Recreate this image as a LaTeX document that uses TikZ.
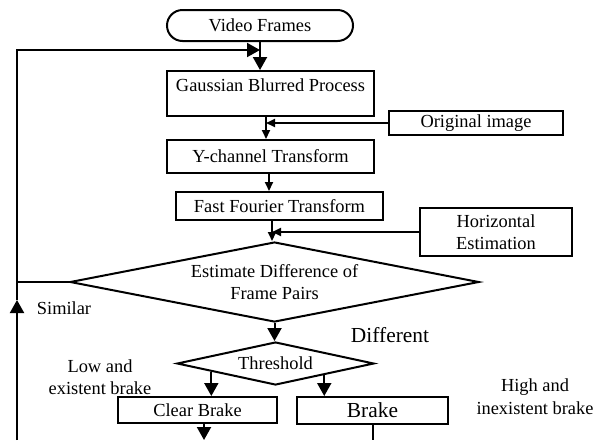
\documentclass[tikz,border=0pt]{standalone}
\usepackage{fontspec}
\setmainfont{Liberation Serif}
\usetikzlibrary{shapes.geometric,arrows.meta,calc}
\begin{document}
\begin{tikzpicture}[x=0.5pt,y=-0.5pt,
  every node/.style={font=\fontsize{9.2}{11.3}\selectfont, inner sep=0pt},
  bigfont/.style={font=\fontsize{10.7}{12.8}\selectfont},
  conn/.style={line width=1pt},
  bigarrow/.style={line width=1pt, -{Triangle[length=6.5pt,width=7pt]}},
  smallarrow/.style={line width=1pt, -{Triangle[length=4.5pt,width=4pt]}},
  procbox/.style={draw, line width=1pt, rectangle},
  terminal/.style={draw, line width=1pt, rectangle, rounded corners=7.75pt},
  decision/.style={draw, line width=1pt, diamond}
]
\useasboundingbox (0,0) rectangle (603,440);

% process chain
\node[terminal, minimum width=93pt, minimum height=15.5pt] (vf) at (260,25.5) {Video Frames};
\node[procbox, minimum width=103.5pt, minimum height=22.5pt, align=center] (gb) at (270.5,93.5) {Gaussian Blurred Process\\[-2.5pt]\mbox{}};
\node[procbox, minimum width=87pt, minimum height=12pt] (oi) at (476,123) {Original image};
\node[procbox, minimum width=103.5pt, minimum height=16.5pt] (yc) at (270.5,156.5) {Y-channel Transform};
\node[procbox, minimum width=103.5pt, minimum height=14pt] (fft) at (279.5,206) {Fast Fourier Transform};
\node[procbox, minimum width=76pt, minimum height=24pt, align=center] (he) at (496,232) {Horizontal\\Estimation};
\node[decision, minimum width=204.5pt, minimum height=40pt, shape aspect=5.1, align=center] (ed) at (274.5,282) {Estimate Difference of\\Frame Pairs};
\node[decision, minimum width=98.5pt, minimum height=21.5pt, shape aspect=4.6] (th) at (275.5,363.5) {Threshold};
\node[procbox, minimum width=79.5pt, minimum height=13pt] (cb) at (197.5,410) {Clear Brake};
\node[procbox, bigfont, minimum width=75.5pt, minimum height=13.5pt] (br) at (372.5,410.5) {Brake};

% branch labels
\node (sim) at (64,308) {Similar};
\node[bigfont] (dif) at (390,335) {Different};
\node[align=center] (low) at (100,377) {Low and\\existent brake};
\node[align=center] (high) at (535,396.5) {High and\\inexistent brake};

% feedback loop
\coordinate (lb) at (17,440);
\coordinate (lup) at (17,300);
\coordinate (lc) at (17,50);

\draw[bigarrow] (vf.south) -- (vf.south |- gb.north);
\draw[bigarrow] (lb) -- (lup);
\draw[bigarrow] (lup) -- (lc) -- (lc -| vf.south);
\draw[conn] (ed.west) -- (ed.west -| lc);

% main flow
\coordinate (g1) at ([xshift=-2.25pt]gb.south);
\draw[smallarrow] (g1) -- (g1 |- yc.north);
\draw[smallarrow] (oi.west) -- (oi.west -| g1);
\coordinate (y1) at ([xshift=-0.75pt]yc.south);
\draw[smallarrow] (y1) -- (y1 |- fft.north);
\coordinate (f1) at ([xshift=-3.75pt]fft.south);
\draw[smallarrow] (f1) -- (f1 |- ed.north);
\draw[smallarrow] (he.west) -- (he.west -| f1);
\draw[bigarrow] (ed.south) -- (ed.south |- th.north);

% threshold outcomes
\coordinate (t1) at ($(th.west)!0.355!(th.south)$);
\coordinate (t2) at ($(th.south)!0.49!(th.east)$);
\draw[bigarrow] (t1) -- (t1 |- cb.north);
\draw[bigarrow] (t2) -- (t2 |- br.north);
\coordinate (c1) at ([xshift=3.25pt]cb.south);
\draw[bigarrow] (c1) -- (c1 |- lb);
\draw[conn] (br.south) -- (br.south |- lb);
\end{tikzpicture}
\end{document}
